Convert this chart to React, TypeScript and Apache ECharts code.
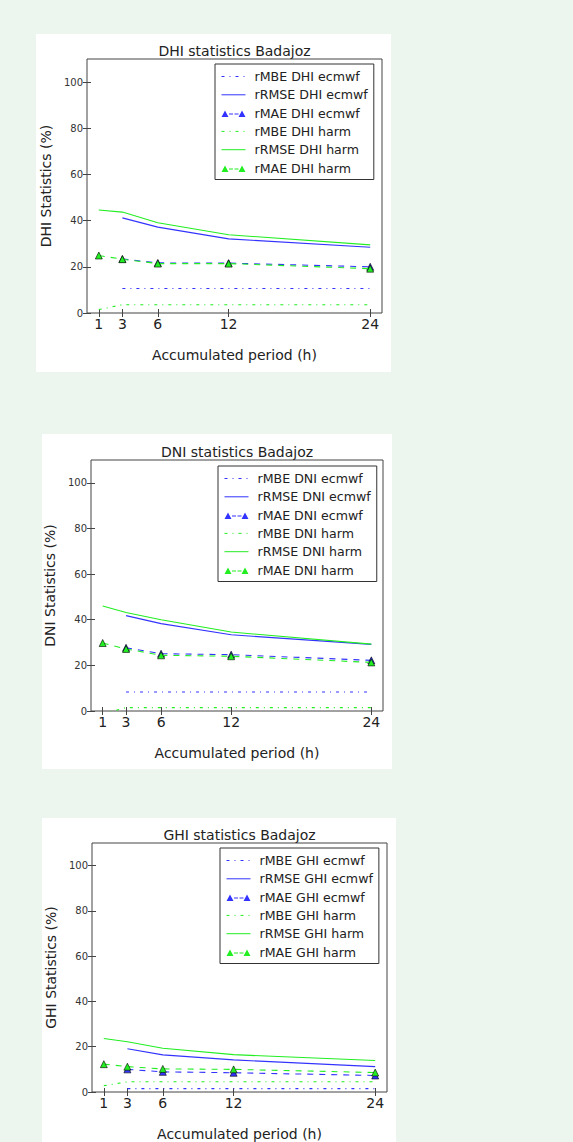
import React, { useEffect, useRef } from "react";
import * as echarts from "echarts";

// ---------- data ----------
const periods = [1, 3, 6, 12, 24];
const yTicks = [0, 20, 40, 60, 80, 100];

const variables = ["DHI", "DNI", "GHI"];

// DHI
const dhiMbeEcmwf = [null, 10.6, 10.6, 10.6, 10.6];
const dhiRmseEcmwf = [null, 41.2, 37.2, 32.1, 28.5];
const dhiMaeEcmwf = [null, 23.4, 21.7, 21.6, 20.0];
const dhiMbeHarm = [1.5, 3.6, 3.6, 3.6, 3.6];
const dhiRmseHarm = [44.6, 43.7, 39.1, 33.9, 29.5];
const dhiMaeHarm = [24.9, 23.3, 21.4, 21.4, 19.2];

// DNI
const dniMbeEcmwf = [null, 8.3, 8.3, 8.3, 8.3];
const dniRmseEcmwf = [null, 41.8, 38.3, 33.4, 29.2];
const dniMaeEcmwf = [null, 27.7, 25.1, 24.7, 22.2];
const dniMbeHarm = [-1.3, 1.5, 1.5, 1.5, 1.5];
const dniRmseHarm = [46.0, 43.2, 40.0, 34.6, 29.3];
const dniMaeHarm = [29.8, 27.2, 24.4, 24.0, 21.3];

// GHI
const ghiMbeEcmwf = [null, 1.5, 1.5, 1.5, 1.5];
const ghiRmseEcmwf = [null, 19.1, 16.4, 14.2, 11.2];
const ghiMaeEcmwf = [null, 10.0, 8.9, 8.5, 7.3];
const ghiMbeHarm = [2.8, 4.5, 4.5, 4.5, 4.5];
const ghiRmseHarm = [23.6, 22.2, 19.3, 16.5, 13.9];
const ghiMaeHarm = [12.3, 11.2, 10.2, 10.0, 8.6];

const panelValues = [
  [dhiMbeEcmwf, dhiRmseEcmwf, dhiMaeEcmwf, dhiMbeHarm, dhiRmseHarm, dhiMaeHarm],
  [dniMbeEcmwf, dniRmseEcmwf, dniMaeEcmwf, dniMbeHarm, dniRmseHarm, dniMaeHarm],
  [ghiMbeEcmwf, ghiRmseEcmwf, ghiMaeEcmwf, ghiMbeHarm, ghiRmseHarm, ghiMaeHarm],
];
const statNames = ["rMBE", "rRMSE", "rMAE", "rMBE", "rRMSE", "rMAE"];
const modelNames = ["ecmwf", "ecmwf", "ecmwf", "harm", "harm", "harm"];

// ---------- layout ----------
const W = 573;
const H = 1142;
const PAGE_BG = "#edf6ee";
const BLUE = "#3333ff";
const GREEN = "#22ee22";
const FONT = "DejaVu Sans";

const panelBoxes = [
  { x: 36, y: 34, w: 355, h: 338 },
  { x: 42, y: 434, w: 350, h: 335 },
  { x: 42, y: 818, w: 354, h: 330 },
];
const grids = [
  { left: 87, top: 59, width: 295, height: 254 },
  { left: 91, top: 460, width: 292, height: 251 },
  { left: 92, top: 843, width: 295, height: 254 },
];
const legendPos = [
  { left: 215, top: 64 },
  { left: 218, top: 466 },
  { left: 220, top: 848 },
];

const triIcon =
  "path://M0,0L0.01,0L0,0.01Z M24,13L23.99,13L24,12.99Z M0,10.5L3.5,4L7,10.5Z M7.5,7L11.5,7L11.5,8L7.5,8Z M13,7L17,7L17,8L13,8Z M17,10.5L20.5,4L24,10.5Z";

function buildOption() {
  const xAxis: any[] = [];
  const yAxis: any[] = [];
  const legend: any[] = [];
  const series: any[] = [];
  const graphic: any[] = [];

  grids.forEach((g, i) => {
    xAxis.push({
      type: "value",
      gridIndex: i,
      min: 0,
      max: 25,
      position: "bottom",
      axisLine: { show: false },
      splitLine: { show: false },
      axisTick: { inside: true, length: 4, lineStyle: { color: "#444" }, customValues: periods },
      axisLabel: { customValues: periods, fontSize: 14, color: "#222", margin: 4, fontFamily: FONT },
      name: "Accumulated period (h)",
      nameLocation: "middle",
      nameGap: 35,
      nameTextStyle: { fontSize: 14, color: "#222", fontFamily: FONT },
    });
    yAxis.push({
      type: "value",
      gridIndex: i,
      min: 0,
      max: 110,
      position: "left",
      axisLine: { show: false },
      splitLine: { show: false },
      axisTick: { inside: true, length: 4, lineStyle: { color: "#444" }, customValues: yTicks },
      axisLabel: { customValues: yTicks, fontSize: 10, color: "#333", margin: 4, fontFamily: FONT },
      name: variables[i] + " Statistics (%)",
      nameLocation: "middle",
      nameRotate: 90,
      nameGap: 28,
      nameTextStyle: { fontSize: 14, color: "#222", fontFamily: FONT },
    });
  });
  grids.forEach((g, i) => {
    xAxis.push({
      type: "value",
      gridIndex: i,
      min: 0,
      max: 25,
      position: "top",
      axisLine: { show: false },
      splitLine: { show: false },
      axisTick: { inside: true, length: 4, lineStyle: { color: "#444" }, customValues: periods },
      axisLabel: { show: false },
    });
    yAxis.push({
      type: "value",
      gridIndex: i,
      min: 0,
      max: 110,
      position: "right",
      axisLine: { show: false },
      splitLine: { show: false },
      axisTick: { inside: true, length: 4, lineStyle: { color: "#444" }, customValues: yTicks },
      axisLabel: { show: false },
    });

    graphic.push({
      type: "text",
      x: g.left + g.width / 2,
      y: g.top - 8.5,
      style: {
        text: variables[i] + " statistics Badajoz",
        fontSize: 14,
        fontFamily: FONT,
        fill: "#222",
        textAlign: "center",
        textVerticalAlign: "middle",
      },
    });

    const legendData: any[] = [];
    panelValues[i].forEach((vals, j) => {
      const name = `${statNames[j]} ${variables[i]} ${modelNames[j]}`;
      const color = j < 3 ? BLUE : GREEN;
      const kind = j % 3;
      const data = periods
        .map((p, k) => (vals[k] === null ? null : [p, vals[k]]))
        .filter((d) => d !== null);
      const s: any = {
        type: "line",
        name,
        xAxisIndex: i,
        yAxisIndex: i,
        data,
        color,
        lineStyle: { width: 1.1, color },
        itemStyle: { color },
        z: 2 + j,
      };
      if (kind === 0) {
        s.symbol = "none";
        s.lineStyle.type = [3, 5, 1, 5];
        legendData.push({ name, itemStyle: { opacity: 0 } });
      } else if (kind === 1) {
        s.symbol = "none";
        s.lineStyle.type = "solid";
        legendData.push({ name, itemStyle: { opacity: 0 } });
      } else {
        s.symbol = "triangle";
        s.symbolSize = 7;
        s.lineStyle.type = [6, 6];
        s.itemStyle = { color, borderColor: "#000", borderWidth: 0.6 };
        legendData.push({ name, icon: triIcon, itemStyle: { borderWidth: 0 } });
      }
      series.push(s);
    });

    legend.push({
      orient: "vertical",
      left: legendPos[i].left,
      top: legendPos[i].top,
      itemWidth: 24,
      itemHeight: 13,
      itemGap: 5.3,
      padding: [6, 6, 5, 6],
      borderColor: "#333",
      borderWidth: 1,
      backgroundColor: "#fff",
      selectedMode: false,
      lineStyle: { width: 1 },
      itemStyle: { borderWidth: 0 },
      textStyle: {
        fontSize: 12.6,
        lineHeight: 13,
        color: "#222",
        fontFamily: FONT,
        padding: [0, 0, 0, 4],
      },
      data: legendData,
    });
  });

  return {
    animation: false,
    textStyle: { fontFamily: FONT },
    grid: grids.map((g) => ({
      ...g,
      show: true,
      borderColor: "#444",
      borderWidth: 1,
      backgroundColor: "transparent",
    })),
    xAxis,
    yAxis,
    legend,
    graphic,
    series,
  };
}

export default function App() {
  const ref = useRef<HTMLDivElement>(null);
  useEffect(() => {
    if (!ref.current) return;
    const chart = echarts.init(ref.current, null, { renderer: "svg" });
    chart.setOption(buildOption() as any);
    return () => chart.dispose();
  }, []);
  return (
    <div
      style={{
        position: "absolute",
        left: 0,
        top: 0,
        width: W,
        height: H,
        background: PAGE_BG,
        overflow: "hidden",
      }}
    >
      {panelBoxes.map((b, i) => (
        <div
          key={i}
          style={{
            position: "absolute",
            left: b.x,
            top: b.y,
            width: b.w,
            height: b.h,
            background: "#fff",
          }}
        />
      ))}
      <div ref={ref} style={{ position: "absolute", left: 0, top: 0, width: W, height: H }} />
    </div>
  );
}
